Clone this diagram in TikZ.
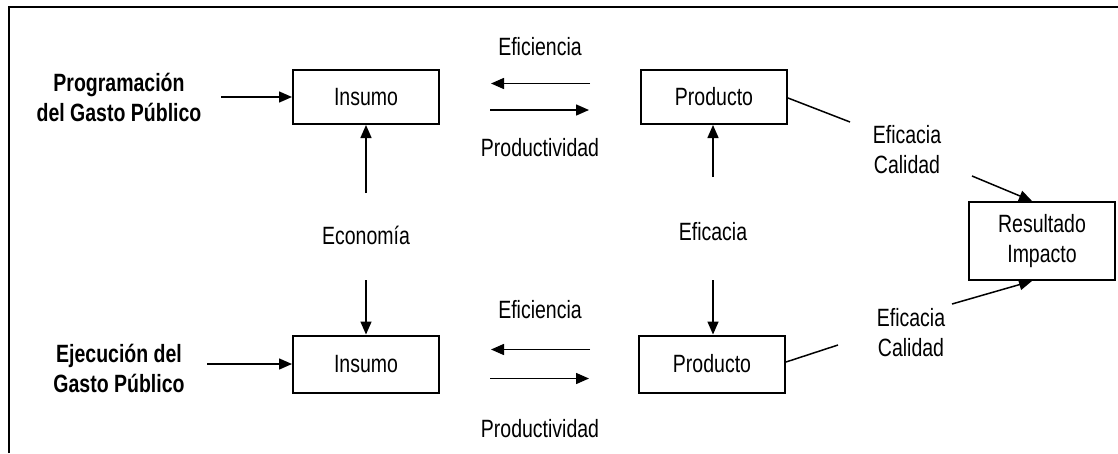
\documentclass[tikz,border=0pt]{standalone}
\usepackage{fontspec}
\setmainfont{Liberation Sans}[FakeStretch=0.78]
\usetikzlibrary{arrows.meta}
\definecolor{diagcolor0000}{RGB}{255,255,255}
\definecolor{diagcolor0001}{RGB}{0,0,0}
\begin{document}
\begin{tikzpicture}[yscale=-1
,font=\fontsize{25pt}{30pt}\selectfont
,pbox/.style={draw=diagcolor0001,line width=2pt,minimum width=146pt,minimum height=54pt,inner sep=0pt,align=center}
,ptext/.style={color=diagcolor0001,inner sep=0pt,align=center}
,parrow/.style={color=diagcolor0001,line width=1.5pt,-{Triangle[length=13pt,width=11pt]}}
,pline/.style={color=diagcolor0001,line width=1.5pt}
,pframe/.style={color=diagcolor0001,line width=2.2pt}
]
\useasboundingbox[fill=diagcolor0000] (0pt,0pt) rectangle (1118pt,453pt);
\draw[pframe] (9pt,453pt) -- (9pt,7pt) -- (1118pt,7pt);
% boxes
\node[pbox] (insumoA) at (366pt,97pt) {Insumo};
\node[pbox] (productoA) at (714pt,97pt) {Producto};
\node[pbox,minimum height=57pt] (insumoB) at (366pt,364pt) {Insumo};
\node[pbox,minimum height=57pt] (productoB) at (712pt,364pt) {Producto};
\node[pbox,minimum height=78pt] (resultado) at (1042pt,241pt) {Resultado\\Impacto};
% labels
\node[ptext,font=\fontsize{25pt}{30pt}\selectfont\bfseries] (programacion) at (119pt,97pt) {Programación\\del Gasto Público};
\node[ptext,font=\fontsize{25pt}{30pt}\selectfont\bfseries] (ejecucion) at (119pt,368pt) {Ejecución del\\Gasto Público};
\node[ptext] (eficienciaA) at (540pt,47pt) {Eficiencia};
\node[ptext] (productividadA) at (540pt,148pt) {Productividad};
\node[ptext] (eficienciaB) at (540pt,310pt) {Eficiencia};
\node[ptext] (productividadB) at (540pt,429pt) {Productividad};
\node[ptext] (economia) at (366pt,235pt) {Economía};
\node[ptext] (eficacia) at (713pt,232pt) {Eficacia};
\node[ptext] (calidadA) at (907pt,150pt) {Eficacia\\Calidad};
\node[ptext] (calidadB) at (911pt,333pt) {Eficacia\\Calidad};
% free ends
\coordinate (progIn) at (221pt,97pt);
\coordinate (ejecIn) at (207pt,364pt);
\coordinate (efiAr) at (590pt,83.5pt);
\coordinate (efiAl) at (491pt,83.5pt);
\coordinate (proAl) at (490pt,110pt);
\coordinate (proAr) at (589pt,110pt);
\coordinate (efiBr) at (590pt,349.5pt);
\coordinate (efiBl) at (491pt,349.5pt);
\coordinate (proBl) at (490pt,378.5pt);
\coordinate (proBr) at (589pt,378.5pt);
\coordinate (ecoUp) at (366pt,193pt);
\coordinate (ecoDown) at (366pt,280pt);
\coordinate (efcUp) at (713pt,177pt);
\coordinate (efcDown) at (713pt,280pt);
\coordinate (calAin) at (850pt,122pt);
\coordinate (calAout) at (972pt,176pt);
\coordinate (calBin) at (838pt,345pt);
\coordinate (calBout) at (952pt,304pt);
% connectors
\draw[parrow] (progIn) -- (insumoA.west);
\draw[parrow] (ejecIn) -- (insumoB.west);
\draw[parrow] (efiAr) -- (efiAl);
\draw[parrow] (proAl) -- (proAr);
\draw[parrow] (efiBr) -- (efiBl);
\draw[parrow] (proBl) -- (proBr);
\draw[parrow] (ecoUp) -- (insumoA.south);
\draw[parrow] (ecoDown) -- (insumoB.north);
\draw[parrow] (efcUp) -- (productoA.south -| efcUp);
\draw[parrow] (efcDown) -- (productoB.north -| efcDown);
\draw[pline] ([yshift=1pt]productoA.east) -- (calAin);
\draw[parrow] (calAout) -- ([xshift=-10pt]resultado.north);
\draw[pline] ([yshift=-2pt]productoB.east) -- (calBin);
\draw[parrow] (calBout) -- ([xshift=-10pt]resultado.south);
\end{tikzpicture}
\end{document}
